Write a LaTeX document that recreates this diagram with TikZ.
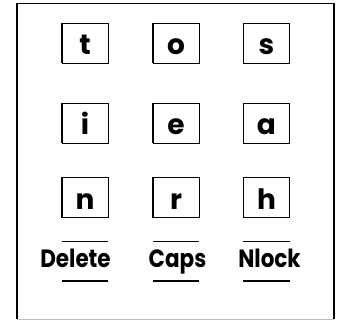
\documentclass[tikz,border=0pt]{standalone}
\usepackage{fontspec}
\setmainfont{Poppins}
\newfontfamily\lblfont{Poppins}[FakeStretch=0.86]
\tikzset{key/.style={draw,line width=.5pt,minimum width=46pt,minimum height=40pt,inner sep=0pt,text height=32pt,text depth=8pt,font=\bfseries\fontsize{28}{28}\selectfont},
lbl/.style={anchor=base,inner sep=0pt,font=\lblfont\bfseries\fontsize{25}{25}\selectfont},
bar/.style={line width=.8pt}}

\begin{document}
\begin{tikzpicture}[x=1pt,y=-1pt]
\useasboundingbox (0,0) rectangle (337,320);
% frame
\draw[gray!50,line width=.8pt] (17,319)--(334,319);
\draw[line width=1.6pt] (17,319)--(17,3.5)--(334,3.5)--(334,319);
% keys
\foreach \n/\x/\y/\c in {1/85/43/t,2/176/43/o,3/266.5/43/s,4/85/123/i,5/176/123/e,6/266.5/123/a,7/85/197.5/n,8/176/197.5/r,9/266.5/197.5/h}{
\node[key] (k\n) at (\x,\y) {\c};
\draw[line width=1.2pt] (k\n.north west)--(k\n.south west);}
% labels under the last row
\foreach \n/\x/\txt in {7/75.5/Delete,8/177.5/Caps,9/269.5/Nlock}{
\node[lbl] (l\n) at (\x,267) {\txt};
\draw[bar] ([yshift=-24pt]k\n.south west)--([yshift=-24pt]k\n.south east);
\draw[bar,line width=1.5pt] ([yshift=-63pt]k\n.south west)--([yshift=-63pt]k\n.south east);}
\end{tikzpicture}
\end{document}
